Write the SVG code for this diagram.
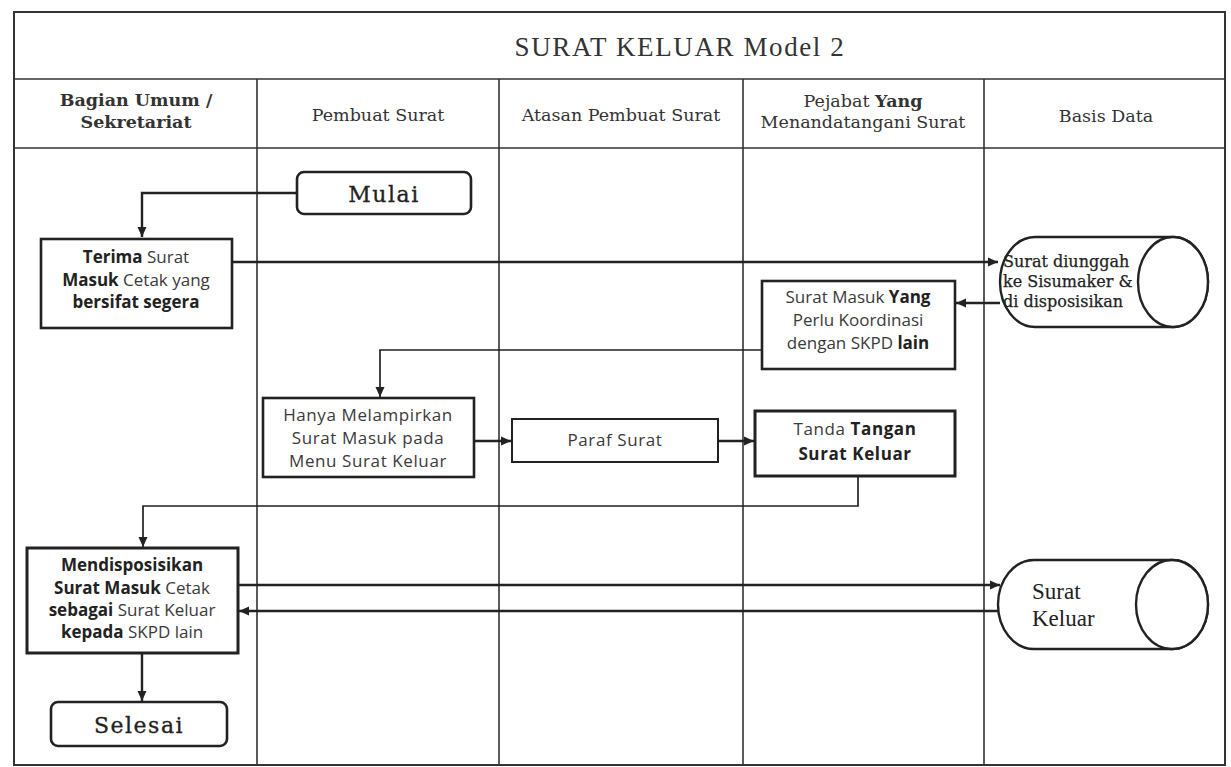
<svg xmlns="http://www.w3.org/2000/svg" width="1231" height="767" viewBox="0 0 1231 767">
<style>
.lane{fill:none;stroke:#333;stroke-width:1.6}
.box{fill:#fff;stroke:#222;stroke-width:2.6}
.term{fill:#fff;stroke:#222;stroke-width:2.6}
.cyl{fill:#fff;stroke:#222;stroke-width:2.4}
.con{fill:none;stroke:#222;stroke-width:2.4}
.thin{stroke-width:1.7}
.title{font-family:"Liberation Serif",serif;font-size:27px;letter-spacing:1.6px;fill:#333;text-anchor:middle}
.hdr{font-family:"DejaVu Serif",serif;font-size:17.5px;fill:#333;text-anchor:middle}
.hdrb{font-weight:bold}
.t{font-family:"Open Sans","Liberation Sans",sans-serif;font-size:17px;fill:#3a3a3a;text-anchor:middle}
.b{font-weight:bold;fill:#222}
.ser{font-family:"DejaVu Serif",serif;font-size:16px;fill:#222;stroke:#222;stroke-width:0.25}
.big{font-family:"DejaVu Serif",serif;font-size:22px;letter-spacing:1.5px;fill:#222;text-anchor:middle;stroke:#222;stroke-width:0.3}
.keluar{font-family:"Liberation Serif",serif;font-size:23px;fill:#222}
</style>
<defs>
<marker id="arr" markerUnits="userSpaceOnUse" markerWidth="10" markerHeight="10" refX="10" refY="5" orient="auto">
<path d="M0,0.5 L10,5 L0,9.5 z" fill="#222"/>
</marker>
</defs>
<rect width="1231" height="767" fill="#fff"/>
<g id="frame">
<rect class="lane" x="14" y="12" width="1211" height="753" style="stroke-width:2"/>
<line class="lane" x1="14" y1="79" x2="1225" y2="79"/>
<line class="lane" x1="14" y1="148" x2="1225" y2="148"/>
<line class="lane" x1="257" y1="79" x2="257" y2="765"/>
<line class="lane" x1="499" y1="79" x2="499" y2="765"/>
<line class="lane" x1="743" y1="79" x2="743" y2="765"/>
<line class="lane" x1="984" y1="79" x2="984" y2="765"/>
<text class="title" x="680" y="56">SURAT KELUAR Model 2</text>
<text class="hdr hdrb" x="136" y="106">Bagian Umum /</text>
<text class="hdr hdrb" x="136" y="128">Sekretariat</text>
<text class="hdr" x="378" y="121">Pembuat Surat</text>
<text class="hdr" x="621" y="121">Atasan Pembuat Surat</text>
<text class="hdr" x="863" y="107">Pejabat <tspan class="hdrb">Yang</tspan></text>
<text class="hdr" x="863" y="128">Menandatangani Surat</text>
<text class="hdr" x="1106" y="122">Basis Data</text>
</g>
<g id="connectors">
<path class="con" d="M297,193 H142 V237" marker-end="url(#arr)"/>
<path class="con" d="M232,262 H998" marker-end="url(#arr)"/>
<path class="con" d="M1000,303 H956" marker-end="url(#arr)"/>
<path class="con thin" d="M762,350 H380 V397" marker-end="url(#arr)"/>
<path class="con" d="M474,441 H511" marker-end="url(#arr)"/>
<path class="con" d="M718,441 H754" marker-end="url(#arr)"/>
<path class="con thin" d="M858,476 V506 H143 V547" marker-end="url(#arr)"/>
<path class="con" d="M238,585 H1000" marker-end="url(#arr)"/>
<path class="con" d="M998,611 H239" marker-end="url(#arr)"/>
<path class="con" d="M142,653 V701" marker-end="url(#arr)"/>
</g>
<g id="mulai">
<rect class="term" x="297" y="172" width="174" height="42" rx="7"/>
<text class="big" x="384" y="202">Mulai</text>
</g>
<g id="terima">
<rect class="box" x="41" y="239" width="191" height="89"/>
<text class="t" x="136" y="263"><tspan class="b">Terima</tspan> Surat</text>
<text class="t" x="136" y="286"><tspan class="b">Masuk</tspan> Cetak yang</text>
<text class="t b" x="136" y="308">bersifat segera</text>
</g>
<g id="db-sisumaker">
<path class="cyl" d="M1035,237 H1173 A35,45 0 0 1 1173,327 H1035 A35,45 0 0 1 1035,237 Z"/>
<ellipse class="cyl" cx="1173" cy="282" rx="35" ry="45"/>
<text class="ser" x="1003" y="267">Surat diunggah</text>
<text class="ser" x="1003" y="287">ke Sisumaker &amp;</text>
<text class="ser" x="1003" y="307">di disposisikan</text>
</g>
<g id="koordinasi">
<rect class="box" x="762" y="281" width="193" height="88"/>
<text class="t" x="858" y="303">Surat Masuk <tspan class="b">Yang</tspan></text>
<text class="t" x="858" y="326">Perlu Koordinasi</text>
<text class="t" x="858" y="349">dengan SKPD <tspan class="b">lain</tspan></text>
</g>
<g id="hanya">
<rect class="box" x="263" y="398" width="211" height="79"/>
<text class="t" x="368" y="421" style="letter-spacing:0.6px">Hanya Melampirkan</text>
<text class="t" x="368" y="444" style="letter-spacing:0.6px">Surat Masuk pada</text>
<text class="t" x="368" y="467" style="letter-spacing:0.6px">Menu Surat Keluar</text>
</g>
<g id="paraf">
<rect class="box" x="512" y="419" width="206" height="43" style="stroke-width:2"/>
<text class="t" x="615" y="446" style="letter-spacing:0.6px">Paraf Surat</text>
</g>
<g id="tanda">
<rect class="box" x="755" y="411" width="200" height="65" style="stroke-width:3"/>
<text class="t" x="855" y="435" style="letter-spacing:0.6px">Tanda <tspan class="b">Tangan</tspan></text>
<text class="t b" x="855" y="460" style="letter-spacing:0.6px">Surat Keluar</text>
</g>
<g id="mendisposisikan">
<rect class="box" x="27" y="548" width="211" height="105" style="stroke-width:3"/>
<text class="t b" x="132" y="571">Mendisposisikan</text>
<text class="t" x="132" y="594"><tspan class="b">Surat Masuk</tspan>  Cetak</text>
<text class="t" x="132" y="616"><tspan class="b">sebagai</tspan> Surat Keluar</text>
<text class="t" x="132" y="638"><tspan class="b">kepada</tspan> SKPD lain</text>
</g>
<g id="db-keluar">
<path class="cyl" d="M1034,560 H1172 A36,44.5 0 0 1 1172,649 H1034 A36,44.5 0 0 1 1034,560 Z"/>
<ellipse class="cyl" cx="1172" cy="604.5" rx="36" ry="44.5"/>
<text class="keluar" x="1032" y="599">Surat</text>
<text class="keluar" x="1032" y="626">Keluar</text>
</g>
<g id="selesai">
<rect class="term" x="51" y="702" width="176" height="44" rx="7"/>
<text class="big" x="139" y="733">Selesai</text>
</g>
</svg>
